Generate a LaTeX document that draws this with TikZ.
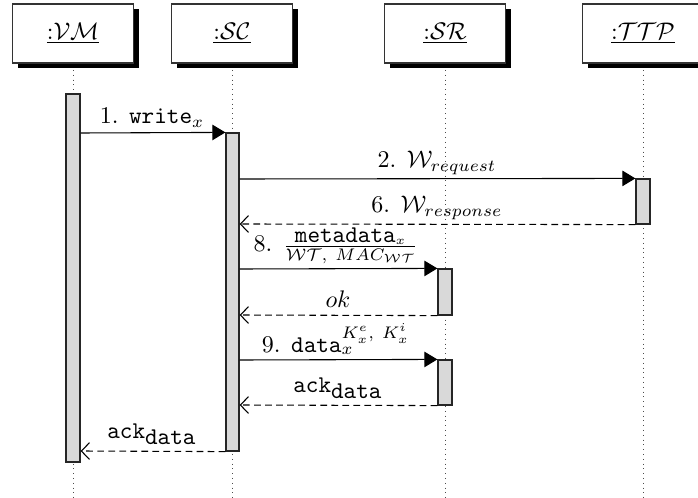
\documentclass[tikz,border=0pt]{standalone}
\usetikzlibrary{arrows.meta}
\definecolor{actgray}{RGB}{217,217,217}
\tikzset{
  header/.style={draw=black!80, line width=0.5pt, fill=white, minimum width=121*0.4167pt, minimum height=59*0.4167pt, inner sep=0pt},
  shadowbox/.style={fill=black, minimum width=121*0.4167pt, minimum height=59*0.4167pt, inner sep=0pt},
  lifeline/.style={draw=black!70, line width=0.4pt, dash pattern=on 0.4pt off 1.6pt},
  act/.style={draw=black!85, line width=0.5pt, fill=actgray},
  callmsg/.style={draw=black, line width=0.45pt, -{Triangle[length=5.4pt,width=6.4pt]}},
  retmsg/.style={draw=black, line width=0.45pt, dash pattern=on 2.8pt off 1.8pt, -{Straight Barb[length=3.4pt,width=7pt,line width=0.45pt]}},
  lbl/.style={anchor=base, inner sep=0pt}
}
\begin{document}
\begin{tikzpicture}[x=0.4167pt,y=-0.4167pt]
\useasboundingbox (0,0) rectangle (698,498);
% lifelines
\coordinate (vmtop) at (73,70);  \coordinate (vmbot) at (73,498);
\coordinate (sctop) at (232,70); \coordinate (scbot) at (232,498);
\coordinate (srtop) at (445,70); \coordinate (srbot) at (445,498);
\coordinate (tttop) at (643,70); \coordinate (ttbot) at (643,498);
\draw[lifeline] (vmtop) -- (vmbot);
\draw[lifeline] (sctop) -- (scbot);
\draw[lifeline] (srtop) -- (srbot);
\draw[lifeline] (tttop) -- (ttbot);
% headers
\node[shadowbox] (vmsh) at (78.5,39) {};
\node[header] (vm) at (73,33.5) {\underline{:$\mathcal{VM}$}};
\node[shadowbox] (scsh) at (237.5,39) {};
\node[header] (sc) at (232,33.5) {\underline{:$\mathcal{SC}$}};
\node[shadowbox] (srsh) at (450.5,39) {};
\node[header] (sr) at (445,33.5) {\underline{:$\mathcal{SR}$}};
\node[shadowbox] (ttsh) at (648.5,39) {};
\node[header] (ttp) at (643,33.5) {\underline{:$\mathcal{TTP}$}};
% activations
\node[act, minimum width=14*0.4167pt, minimum height=368*0.4167pt, inner sep=0pt] (vmact) at (73,278) {};
\node[act, minimum width=13*0.4167pt, minimum height=318*0.4167pt, inner sep=0pt] (scact) at (232.5,292) {};
\node[act, minimum width=14*0.4167pt, minimum height=45*0.4167pt, inner sep=0pt] (ttact) at (643,201.5) {};
\node[act, minimum width=14*0.4167pt, minimum height=46*0.4167pt, inner sep=0pt] (sract1) at (445,292) {};
\node[act, minimum width=14*0.4167pt, minimum height=45*0.4167pt, inner sep=0pt] (sract2) at (445,382.5) {};
% messages
\draw[callmsg] (vmact.east |- 0,133) -- (scact.north west);
\node[lbl] (m1) at (152,124) {1. $\mathtt{write}_x$};
\draw[callmsg] (scact.east |- 0,179) -- (ttact.north west);
\node[lbl] (m2) at (437,168) {2. $\mathcal{W}_{request}$};
\draw[retmsg] (ttact.south west) -- (scact.east |- 0,224);
\node[lbl] (m6) at (437,213) {6. $\mathcal{W}_{response}$};
\draw[callmsg] (scact.east |- 0,269) -- (sract1.north west);
\node[lbl] (m8) at (336,252) {8. $\frac{\mbox{\texttt{metadata}}_x}{\mathcal{WT},\ MAC_{\mathcal{WT}}}$};
\draw[retmsg] (sract1.south west) -- (scact.east |- 0,315);
\node[lbl] (mok) at (338,308) {$ok$};
\draw[callmsg] (scact.east |- 0,360) -- (sract2.north west);
\node[lbl] (m9) at (336,352) {9. $\mathtt{data}_x^{K_x^e,\ K_x^i}$};
\draw[retmsg] (sract2.south west) -- (scact.east |- 0,405);
\node[lbl] (ack1) at (338,392) {\texttt{ack}$_{\mbox{\texttt{data}}}$};
\draw[retmsg] (scact.south west) -- (vmact.east |- 0,451);
\node[lbl] (ack2) at (152,438) {\texttt{ack}$_{\mbox{\texttt{data}}}$};
\end{tikzpicture}
\end{document}
